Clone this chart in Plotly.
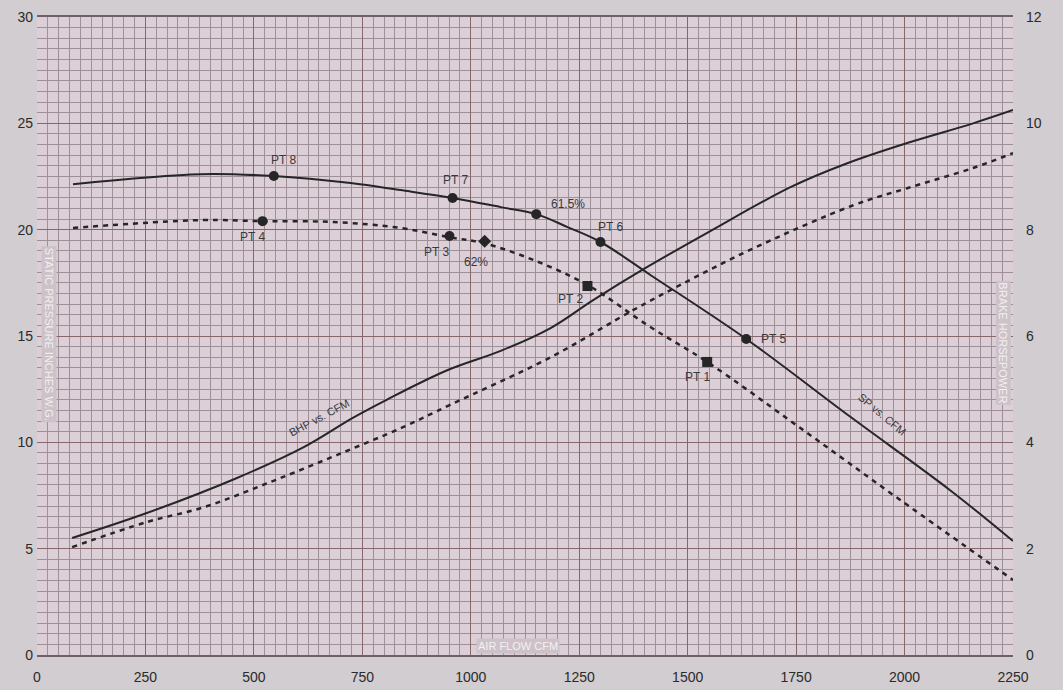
import plotly.graph_objects as go

# ---- data ----
# Static pressure (in. W.G.) vs air flow (CFM), solid curve
sp1_cfm = [83, 378, 546, 723, 838, 958, 1069, 1151, 1223, 1299, 1414, 1635, 1875, 2105, 2250]
sp1_val = [22.14, 22.61, 22.52, 22.19, 21.86, 21.49, 21.06, 20.73, 20.12, 19.42, 17.87, 14.86, 11.2, 7.75, 5.36]
# Static pressure, dashed curve
sp2_cfm = [83, 378, 520, 684, 838, 949, 1029, 1145, 1269, 1414, 1545, 1760, 1990, 2250]
sp2_val = [20.08, 20.45, 20.40, 20.36, 20.08, 19.65, 19.37, 18.57, 17.40, 15.42, 13.78, 10.67, 7.29, 3.53]
# Brake horsepower, solid curve
bhp1_cfm = [81, 253, 461, 615, 728, 806, 947, 1069, 1184, 1283, 1403, 1545, 1737, 1868, 2006, 2158, 2250]
bhp1_val = [2.20, 2.67, 3.33, 3.91, 4.46, 4.80, 5.36, 5.72, 6.15, 6.68, 7.28, 7.94, 8.80, 9.25, 9.63, 10.0, 10.25]
# Brake horsepower, dashed curve
bhp2_cfm = [81, 253, 385, 537, 691, 845, 951, 1184, 1375, 1483, 1644, 1882, 2006, 2158, 2250]
bhp2_val = [2.03, 2.50, 2.78, 3.25, 3.76, 4.29, 4.70, 5.60, 6.49, 6.96, 7.62, 8.46, 8.78, 9.16, 9.44]

# Test points
pt_labels = ["PT 8", "PT 7", "61.5%", "PT 6", "PT 5", "PT 4", "PT 3", "62%", "PT 2", "PT 1"]
pt_cfm = [546, 958, 1151, 1299, 1635, 520, 951, 1032, 1269, 1545]
pt_sp = [22.52, 21.49, 20.73, 19.42, 14.86, 20.40, 19.70, 19.46, 17.35, 13.78]
pt_symbol = ["circle", "circle", "circle", "circle", "circle", "circle", "circle", "diamond", "square", "square"]
pt_shift = [(10, 16), (3, 18), (32, 10), (10, 15), (27, 0), (-10, -16), (-13, -16), (-9, -21), (-17, -13), (-10, -15)]

x_ticks = [0, 250, 500, 750, 1000, 1250, 1500, 1750, 2000, 2250]
y_ticks = [0, 5, 10, 15, 20, 25, 30]
y2_ticks = [0, 2, 4, 6, 8, 10, 12]

ink = "#262626"
fig = go.Figure()

fig.add_trace(go.Scatter(x=sp1_cfm, y=sp1_val, mode="lines", line=dict(color=ink, width=2, shape="spline"),
                         showlegend=False, hoverinfo="skip"))
fig.add_trace(go.Scatter(x=sp2_cfm, y=sp2_val, mode="lines",
                         line=dict(color=ink, width=2.5, dash="5px,5px", shape="spline"),
                         showlegend=False, hoverinfo="skip"))
fig.add_trace(go.Scatter(x=bhp1_cfm, y=bhp1_val, yaxis="y2", mode="lines",
                         line=dict(color=ink, width=2, shape="spline"), showlegend=False, hoverinfo="skip"))
fig.add_trace(go.Scatter(x=bhp2_cfm, y=bhp2_val, yaxis="y2", mode="lines",
                         line=dict(color=ink, width=2.5, dash="5px,5px", shape="spline"),
                         showlegend=False, hoverinfo="skip"))
fig.add_trace(go.Scatter(x=pt_cfm, y=pt_sp, mode="markers",
                         marker=dict(color=ink, size=10, symbol=pt_symbol),
                         showlegend=False, hoverinfo="skip"))

for lab, xv, yv, (dx, dy) in zip(pt_labels, pt_cfm, pt_sp, pt_shift):
    fig.add_annotation(x=xv, y=yv, text=lab, showarrow=False, xshift=dx, yshift=dy,
                       font=dict(family="Liberation Sans, Arial", size=12, color="#3a3a3a"))

fig.add_annotation(x=649, y=11.14, text="BHP vs. CFM", textangle=-28, showarrow=False,
                   font=dict(family="Liberation Sans, Arial", size=11, color="#3a3a3a"))
fig.add_annotation(x=1948, y=11.33, text="SP vs. CFM", textangle=40, showarrow=False,
                   font=dict(family="Liberation Sans, Arial", size=11, color="#3a3a3a"))
fig.add_annotation(x=28, y=15.1, text="STATIC PRESSURE INCHES W.G.", textangle=90, showarrow=False,
                   bgcolor="#cdc2c8", borderpad=1,
                   font=dict(family="Liberation Sans, Arial", size=11, color="#f4eff2"))
fig.add_annotation(x=2227, y=14.7, text="BRAKE HORSEPOWER", textangle=90, showarrow=False,
                   bgcolor="#cdc2c8", borderpad=1,
                   font=dict(family="Liberation Sans, Arial", size=11, color="#f4eff2"))
fig.add_annotation(x=1110, y=0.42, text="AIR FLOW CFM", showarrow=False,
                   bgcolor="#cdc2c8", borderpad=1,
                   font=dict(family="Liberation Sans, Arial", size=11, color="#f4eff2"))

tickfont = dict(family="Liberation Sans, Arial", size=14, color="#2a2a2a")
major = "#86686c"
minor_c = "#9d9097"
fig.update_layout(
    width=1063, height=690,
    margin=dict(l=37, r=50, t=17, b=35, autoexpand=False),
    paper_bgcolor="#d2cdd0",
    plot_bgcolor="#dccfd7",
    xaxis=dict(range=[0, 2250], tickvals=x_ticks, ticktext=[str(v) for v in x_ticks],
               automargin=False, ticklabelstandoff=8,
               showgrid=True, gridcolor=major, gridwidth=1.3, zeroline=False,
               showline=True, linecolor="#6e6068", linewidth=1.5, mirror=True,
               ticks="", tickfont=tickfont,
               minor=dict(dtick=25, showgrid=True, gridcolor=minor_c, gridwidth=1)),
    yaxis=dict(range=[0, 30], tickvals=y_ticks, showgrid=True, gridcolor=major, gridwidth=1.3,
               automargin=False, ticklabelstandoff=3,
               zeroline=False, ticks="", tickfont=tickfont,
               minor=dict(dtick=0.5, showgrid=True, gridcolor=minor_c, gridwidth=1)),
    yaxis2=dict(range=[0, 12], tickvals=y2_ticks, overlaying="y", side="right",
                automargin=False, ticklabelstandoff=12,
                showgrid=False, zeroline=False, ticks="", tickfont=tickfont),
)

fig.write_html("out.html", config={"displayModeBar": False},
               post_script="document.body.style.margin='0';document.body.style.background='#d2cdd0';")
